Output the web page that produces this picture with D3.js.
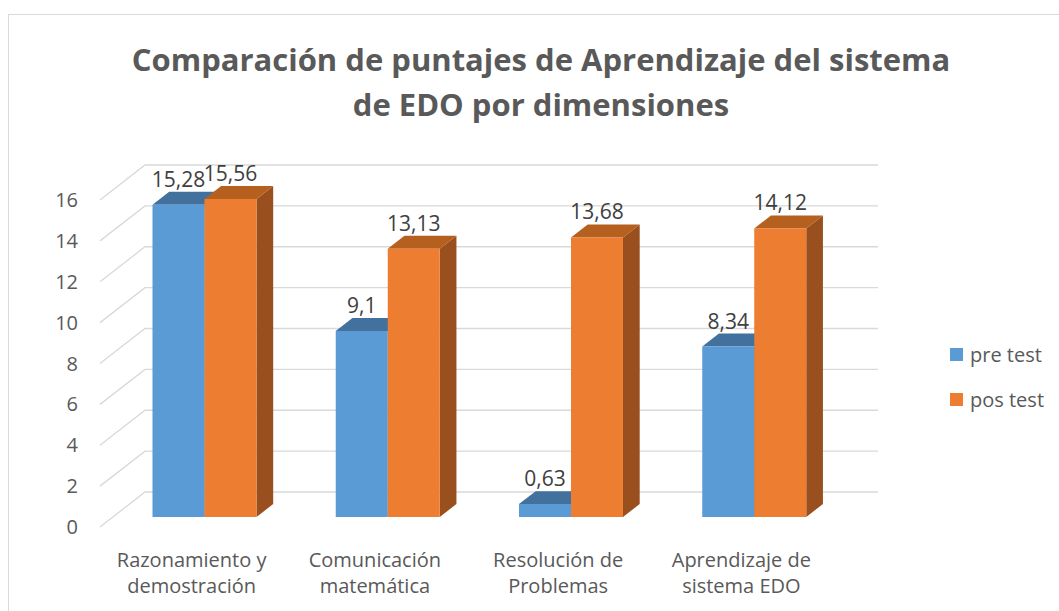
<!DOCTYPE html>
<html>
<head>
<meta charset="utf-8">
<script src="https://cdn.jsdelivr.net/npm/d3@7"></script>
<style>
  body { margin: 0; background: #fff; }
  text { font-family: "Open Sans", sans-serif; }
</style>
</head>
<body>
<div class="chart"></div>
<script>
var svgWidth = 1059;
var svgHeight = 611;

var categories = [
  ["Razonamiento y", "demostración"],
  ["Comunicación", "matemática"],
  ["Resolución de", "Problemas"],
  ["Aprendizaje de", "sistema EDO"]
];
var seriesNames = ["pre test", "pos test"];
var preTest = [15.28, 9.1, 0.63, 8.34];
var posTest = [15.56, 13.13, 13.68, 14.12];
var yTicks = [0, 2, 4, 6, 8, 10, 12, 14, 16];

var colors = {
  "pre test": { front: "#5B9BD5", top: "#41719C", side: "#3B6890" },
  "pos test": { front: "#ED7D31", top: "#B5601F", side: "#9A4F1E" }
};

// floor front-left corner and depth vector of the 3D box
var originX = 100, originY = 527;
var plotWidth = 733;
var depthX = 45, depthY = -35;
var barZ0 = 0.286, barZ1 = 0.657;

var svg = d3.select(".chart")
  .append("svg")
  .attr("width", svgWidth)
  .attr("height", svgHeight);

// outer border
svg.append("rect")
  .attr("x", 8.5).attr("y", 14.5)
  .attr("width", 1070).attr("height", 620)
  .attr("fill", "none")
  .attr("stroke", "#D9D9D9");

var xScale = d3.scaleBand()
  .domain(d3.range(categories.length))
  .range([0, plotWidth]);

var yScale = d3.scaleLinear()
  .domain([0, 16])
  .range([0, 327]);

var barGroupWidth = 104;
var xInner = d3.scaleBand()
  .domain(seriesNames)
  .range([0, barGroupWidth]);

function proj(x, v, z) {
  return [originX + x + depthX * z, originY - yScale(v) + depthY * z];
}

// gridlines: left wall diagonals and back wall horizontals
var grid = svg.append("g")
  .attr("stroke", "#D9D9D9")
  .attr("stroke-width", 1.3)
  .attr("fill", "none");

yTicks.forEach(function(t) {
  var a = proj(0, t, 0), b = proj(0, t, 1), c = proj(plotWidth, t, 1);
  grid.append("path")
    .attr("d", "M" + a + "L" + b + "L" + c);
});

// y axis labels
svg.append("g")
  .selectAll("text")
  .data(yTicks)
  .enter().append("text")
    .attr("x", 78)
    .attr("y", function(t) { return proj(0, t, 0)[1]; })
    .attr("dy", "0.35em")
    .attr("text-anchor", "end")
    .attr("font-size", "20px")
    .attr("fill", "#595959")
    .text(function(t) { return t; });

// bars
var bars = [];
categories.forEach(function(cat, i) {
  bars.push({ i: i, s: "pre test", v: preTest[i] });
  bars.push({ i: i, s: "pos test", v: posTest[i] });
});

var barG = svg.append("g");
bars.forEach(function(d) {
  var x0 = xScale(d.i) + (xScale.bandwidth() - barGroupWidth) / 2 + xInner(d.s);
  var x1 = x0 + xInner.bandwidth();
  var c = colors[d.s];
  var fbl = proj(x0, 0, barZ0), fbr = proj(x1, 0, barZ0);
  var ftl = proj(x0, d.v, barZ0), ftr = proj(x1, d.v, barZ0);
  var btl = proj(x0, d.v, barZ1), btr = proj(x1, d.v, barZ1);
  var bbr = proj(x1, 0, barZ1);
  barG.append("path")
    .attr("d", "M" + fbr + "L" + bbr + "L" + btr + "L" + ftr + "Z")
    .attr("fill", c.side);
  barG.append("path")
    .attr("d", "M" + ftl + "L" + ftr + "L" + btr + "L" + btl + "Z")
    .attr("fill", c.top);
  barG.append("path")
    .attr("d", "M" + fbl + "L" + fbr + "L" + ftr + "L" + ftl + "Z")
    .attr("fill", c.front);
});

// data labels
svg.append("g")
  .selectAll("text")
  .data(bars)
  .enter().append("text")
    .attr("x", function(d) {
      var x0 = xScale(d.i) + (xScale.bandwidth() - barGroupWidth) / 2 + xInner(d.s);
      return proj(x0 + xInner.bandwidth() / 2, d.v, barZ0)[0];
    })
    .attr("y", function(d) { return proj(0, d.v, barZ1)[1] - 5; })
    .attr("text-anchor", "middle")
    .attr("font-size", "21px")
    .attr("fill", "#404040")
    .text(function(d) { return String(d.v).replace(".", ","); });

// category labels
var catG = svg.append("g")
  .selectAll("text")
  .data(categories)
  .enter().append("text")
    .attr("text-anchor", "middle")
    .attr("font-size", "20px")
    .attr("fill", "#595959");

catG.each(function(lines, i) {
  var cx = originX + xScale(i) + xScale.bandwidth() / 2;
  var el = d3.select(this);
  lines.forEach(function(line, k) {
    el.append("tspan")
      .attr("x", cx)
      .attr("y", 567 + k * 26)
      .text(line);
  });
});

// title
var title = svg.append("text")
  .attr("text-anchor", "middle")
  .attr("font-size", "31px")
  .attr("font-weight", "bold")
  .attr("fill", "#595959");
title.append("tspan").attr("x", 541).attr("y", 71)
  .text("Comparación de puntajes de Aprendizaje del sistema");
title.append("tspan").attr("x", 541).attr("y", 116)
  .text("de EDO por dimensiones");

// legend
var legend = svg.append("g")
  .selectAll("g")
  .data(seriesNames)
  .enter().append("g")
    .attr("transform", function(d, i) { return "translate(950," + (348 + i * 45) + ")"; });

legend.append("rect")
  .attr("width", 13).attr("height", 13)
  .attr("fill", function(d) { return colors[d].front; });

legend.append("text")
  .attr("x", 20)
  .attr("y", 7)
  .attr("dy", "0.35em")
  .attr("font-size", "20px")
  .attr("fill", "#595959")
  .text(function(d) { return d; });
</script>
</body>
</html>
